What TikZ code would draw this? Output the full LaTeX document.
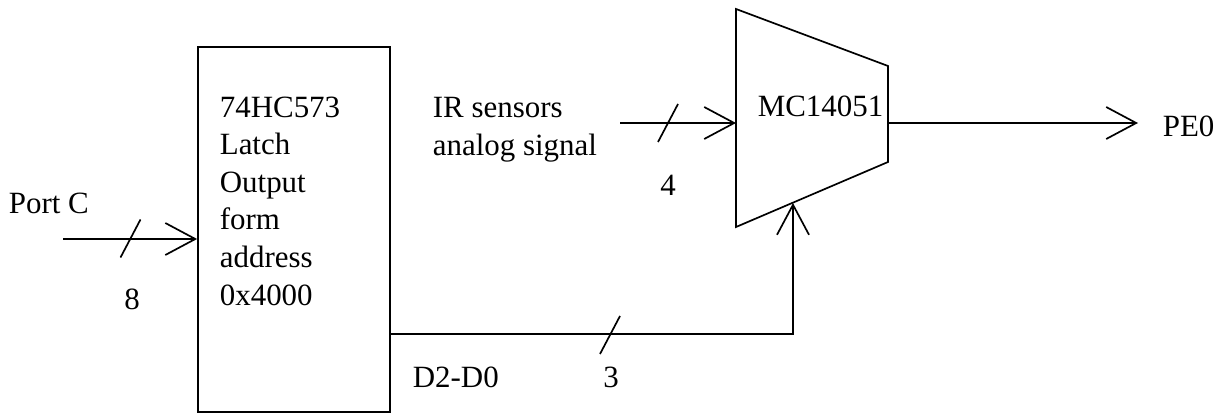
\documentclass[tikz,border=0pt]{standalone}
\usepackage{fontspec}
\setmainfont{Liberation Serif}
\usetikzlibrary{arrows.meta,positioning}

\begin{document}
\begin{tikzpicture}[
      x=0.025cm, y=-0.025cm, line width=1.2pt,
      lbl/.style={font=\fontsize{22}{26.7}\selectfont, inner sep=0pt},
      sig/.style={-{Straight Barb[length=7.5mm, width=8mm, line width=1.2pt]}},
      bustick/.pic={\draw (-10,19) -- (10,-19);},
    ]
      \useasboundingbox (0,0) rectangle (1220,413);

      % latch block
      \node[draw, minimum width=4.8cm, minimum height=9.125cm, inner sep=0pt]
        (latch) at (294,229.5) {};
      \node[lbl, align=left, anchor=base west] (latchtxt) at (219,305)
        {74HC573\\Latch\\Output\\form\\address\\0x4000};

      % multiplexer
      \coordinate (muxtl) at (736,9);
      \coordinate (muxtr) at (888,66);
      \coordinate (muxbr) at (888,162);
      \coordinate (muxbl) at (736,227);
      \draw (muxtl) -- (muxtr) -- (muxbr) -- (muxbl) -- cycle;
      \node[lbl, anchor=base west] (mux) at (757,117) {MC14051};

      % inputs and outputs
      \coordinate (portin) at (63,239);
      \coordinate (irin)   at (620,123);
      \coordinate (muxin)  at (736,123);
      \coordinate (muxout) at (888,123);
      \coordinate (pe)     at (1138,123);
      \coordinate (sel)    at (793,203);
      \coordinate (latchout) at (390,334);

      \draw[sig] (portin) -- (portin -| latch.west);
      \draw[sig] (irin) -- (muxin);
      \draw[sig] (muxout) -- (pe);
      \draw[sig] (latchout) -| (sel);

      \pic at (130.5,238.5) {bustick};
      \pic at (668,123) {bustick};
      \pic at (610,335) {bustick};

      % labels
      \node[lbl, anchor=base west] (portc) at (8,213) {Port C};
      \node[lbl, anchor=base] (w8) at (132,309) {8};
      \node[lbl, align=left, anchor=base west] (irtxt) at (432,155)
        {IR sensors\\analog signal};
      \node[lbl, anchor=base] (w4) at (668,195) {4};
      \node[lbl, anchor=base west] (pe0) at (1162,137) {PE0};
      \node[lbl, anchor=base west] (dsel) at (412,387) {D2-D0};
      \node[lbl, anchor=base] (w3) at (611,387) {3};
    \end{tikzpicture}
\end{document}
